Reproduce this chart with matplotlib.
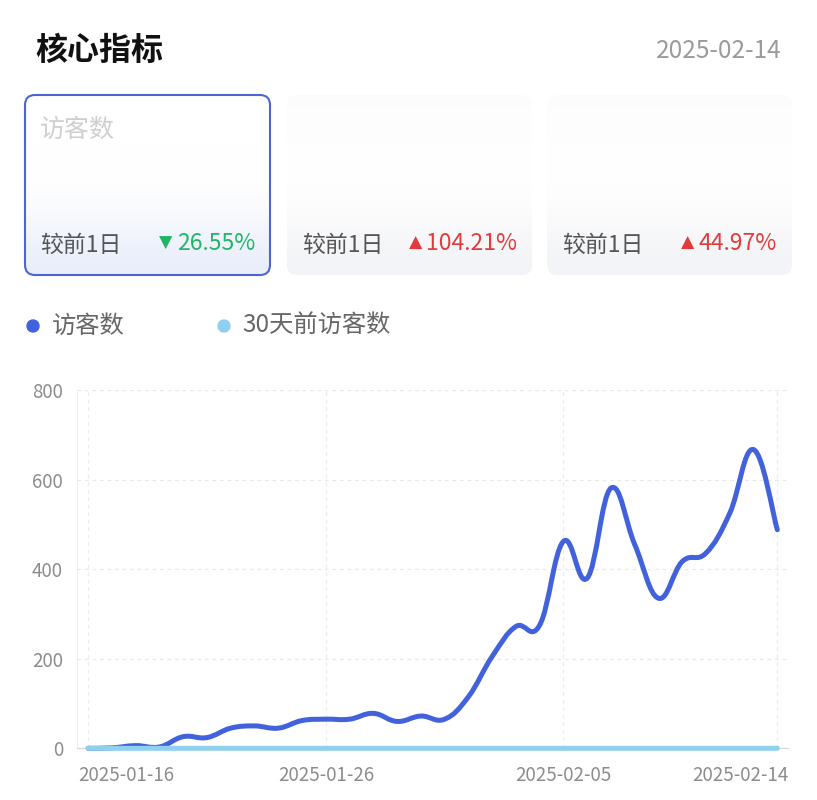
import numpy as np
import matplotlib
matplotlib.use('Agg')
import matplotlib.pyplot as plt
import matplotlib.transforms as mtransforms
from matplotlib.path import Path
from matplotlib.patches import PathPatch, FancyBboxPatch, Circle

plt.rcParams['font.family'] = ['Noto Sans CJK SC', 'DejaVu Sans']

# data
dates = ['2025-01-16', '2025-01-26', '2025-02-05', '2025-02-14']
date_pos = [0, 10, 20, 29]
visitors = [0, 1, 6, 3, 26, 24, 45, 50, 45, 62, 65, 65, 78, 60, 72,
            65, 115, 205, 272, 275, 462, 380, 581, 455, 335, 417, 436, 525, 667, 488]
visitors_30d = [0] * 30
y_ticks = [0, 200, 400, 600, 800]

card_labels = ['较前1日', '较前1日', '较前1日']
card_arrows = ['▼', '▲', '▲']
card_changes = ['26.55%', '104.21%', '44.97%']
card_colors = ['#22b566', '#e23b3b', '#e23b3b']

BLUE = '#4262dd'
LIGHT = '#8fd0ef'
GRAY = '#8c8c8c'


def smooth_path(xs, ys, k=0.2):
    # cubic bezier through the points (ECharts-like smooth line)
    p = np.column_stack([xs, ys]).astype(float)
    n = len(p)
    verts = [p[0]]
    codes = [Path.MOVETO]
    for i in range(n - 1):
        prev = p[i - 1] if i > 0 else p[i]
        nxt2 = p[i + 2] if i + 2 < n else p[i + 1]
        c1 = p[i] + (p[i + 1] - prev) * k
        c2 = p[i + 1] - (nxt2 - p[i]) * k
        verts += [c1, c2, p[i + 1]]
        codes += [Path.CURVE4] * 3
    return Path(verts, codes)


fig = plt.figure(figsize=(8.17, 8.0), dpi=100)

# background layer in pixel coordinates
bg = fig.add_axes([0, 0, 1, 1])
bg.set_xlim(0, 817)
bg.set_ylim(800, 0)
bg.axis('off')

bg.text(35, 51, '核心指标', fontsize=23, fontweight='bold', color='#111111',
        ha='left', va='center')
bg.text(782, 51, '2025-02-14', fontsize=17.5, color='#9a9a9a', ha='right', va='center')

# the three cards
cards_x = [25, 287, 547]
card_w = 245
card_top, card_h = 95, 180
change_texts = []
for i, cx in enumerate(cards_x):
    box = FancyBboxPatch((cx, card_top), card_w, card_h,
                         boxstyle='round,pad=0,rounding_size=10',
                         facecolor='none', edgecolor='none')
    bg.add_patch(box)
    if i == 0:
        grad = np.array([[1.0], [1.0], [0.9], [0.0]])
        cmap = matplotlib.colors.LinearSegmentedColormap.from_list('c1', ['#e9eefb', '#ffffff'])
    else:
        grad = np.array([[0.8], [1.0], [0.85], [0.0]])
        cmap = matplotlib.colors.LinearSegmentedColormap.from_list('c2', ['#f3f4f7', '#ffffff'])
    im = bg.imshow(grad, cmap=cmap, vmin=0, vmax=1, aspect='auto',
                   extent=(cx, cx + card_w, card_top + card_h, card_top),
                   interpolation='bicubic', zorder=1)
    im.set_clip_path(box)
    if i == 0:
        border = FancyBboxPatch((cx, card_top), card_w, card_h,
                                boxstyle='round,pad=0,rounding_size=10',
                                facecolor='none', edgecolor='#4d65d2', lw=1.5, zorder=2)
        bg.add_patch(border)
    bg.text(cx + 15, 245, card_labels[i], fontsize=16.5, color='#555555',
            ha='left', va='center', zorder=3)
    t = bg.text(cx + 230, 244, card_changes[i], fontsize=16.5, color=card_colors[i],
                ha='right', va='center', zorder=3)
    change_texts.append(t)

bg.text(40, 130, '访客数', fontsize=18, color='#cfcfcf', ha='left', va='center', zorder=3)

# legend
bg.add_patch(Circle((33, 326), 6, color=BLUE))
bg.text(52, 326, '访客数', fontsize=17.5, color='#666666', ha='left', va='center')
bg.add_patch(Circle((224, 326), 6, color=LIGHT))
bg.text(242, 326, '30天前访客数', fontsize=17.5, color='#666666', ha='left', va='center')

# main chart
ax = fig.add_axes([77 / 817, 1 - 748.3 / 800, (788 - 77) / 817, (748.3 - 390) / 800])
days = np.arange(len(visitors))
ax.set_xlim(-0.47, 29.45)
ax.set_ylim(0, 800)

for v in y_ticks[1:]:
    ax.axhline(v, color='#e8e8e8', lw=0.9, ls=(0, (3, 3)), zorder=0)
for d in date_pos:
    ax.axvline(d, color='#ececec', lw=0.9, ls=(0, (3, 3)), zorder=0)

ax.add_patch(PathPatch(smooth_path(days, visitors), fill=False, edgecolor=BLUE,
                       lw=3.6, capstyle='round', joinstyle='round', zorder=3, clip_on=False))
ax.add_patch(PathPatch(smooth_path(days, visitors_30d), fill=False, edgecolor=LIGHT,
                       lw=3.6, capstyle='round', joinstyle='round', zorder=4, clip_on=False))

for s in ['top', 'right']:
    ax.spines[s].set_visible(False)
ax.spines['left'].set_color('#eeeeee')
ax.spines['bottom'].set_color('#d6d6d6')

ax.set_yticks(y_ticks)
ax.set_yticklabels([str(v) for v in y_ticks])
ax.set_xticks(date_pos)
ax.set_xticklabels(dates)
ax.tick_params(axis='both', length=0, labelsize=13.5, labelcolor=GRAY)
ax.tick_params(axis='y', pad=10)
ax.tick_params(axis='x', pad=12)

xl = ax.get_xticklabels()
xl[0].set_ha('left')
xl[0].set_transform(xl[0].get_transform() + mtransforms.ScaledTranslation(-0.10, 0, fig.dpi_scale_trans))
xl[-1].set_ha('right')
xl[-1].set_transform(xl[-1].get_transform() + mtransforms.ScaledTranslation(0.11, 0, fig.dpi_scale_trans))

# small arrows placed just left of the percentage texts
fig.canvas.draw()
renderer = fig.canvas.get_renderer()
for t, arrow, col in zip(change_texts, card_arrows, card_colors):
    bb = t.get_window_extent(renderer)
    bg.text(bb.x0 - 4, 800 - (bb.y0 + bb.y1) / 2 - 1, arrow, fontsize=12.5, color=col,
            ha='right', va='center', family='DejaVu Sans', zorder=3)

fig.savefig('out.png', dpi=100, facecolor='white')
